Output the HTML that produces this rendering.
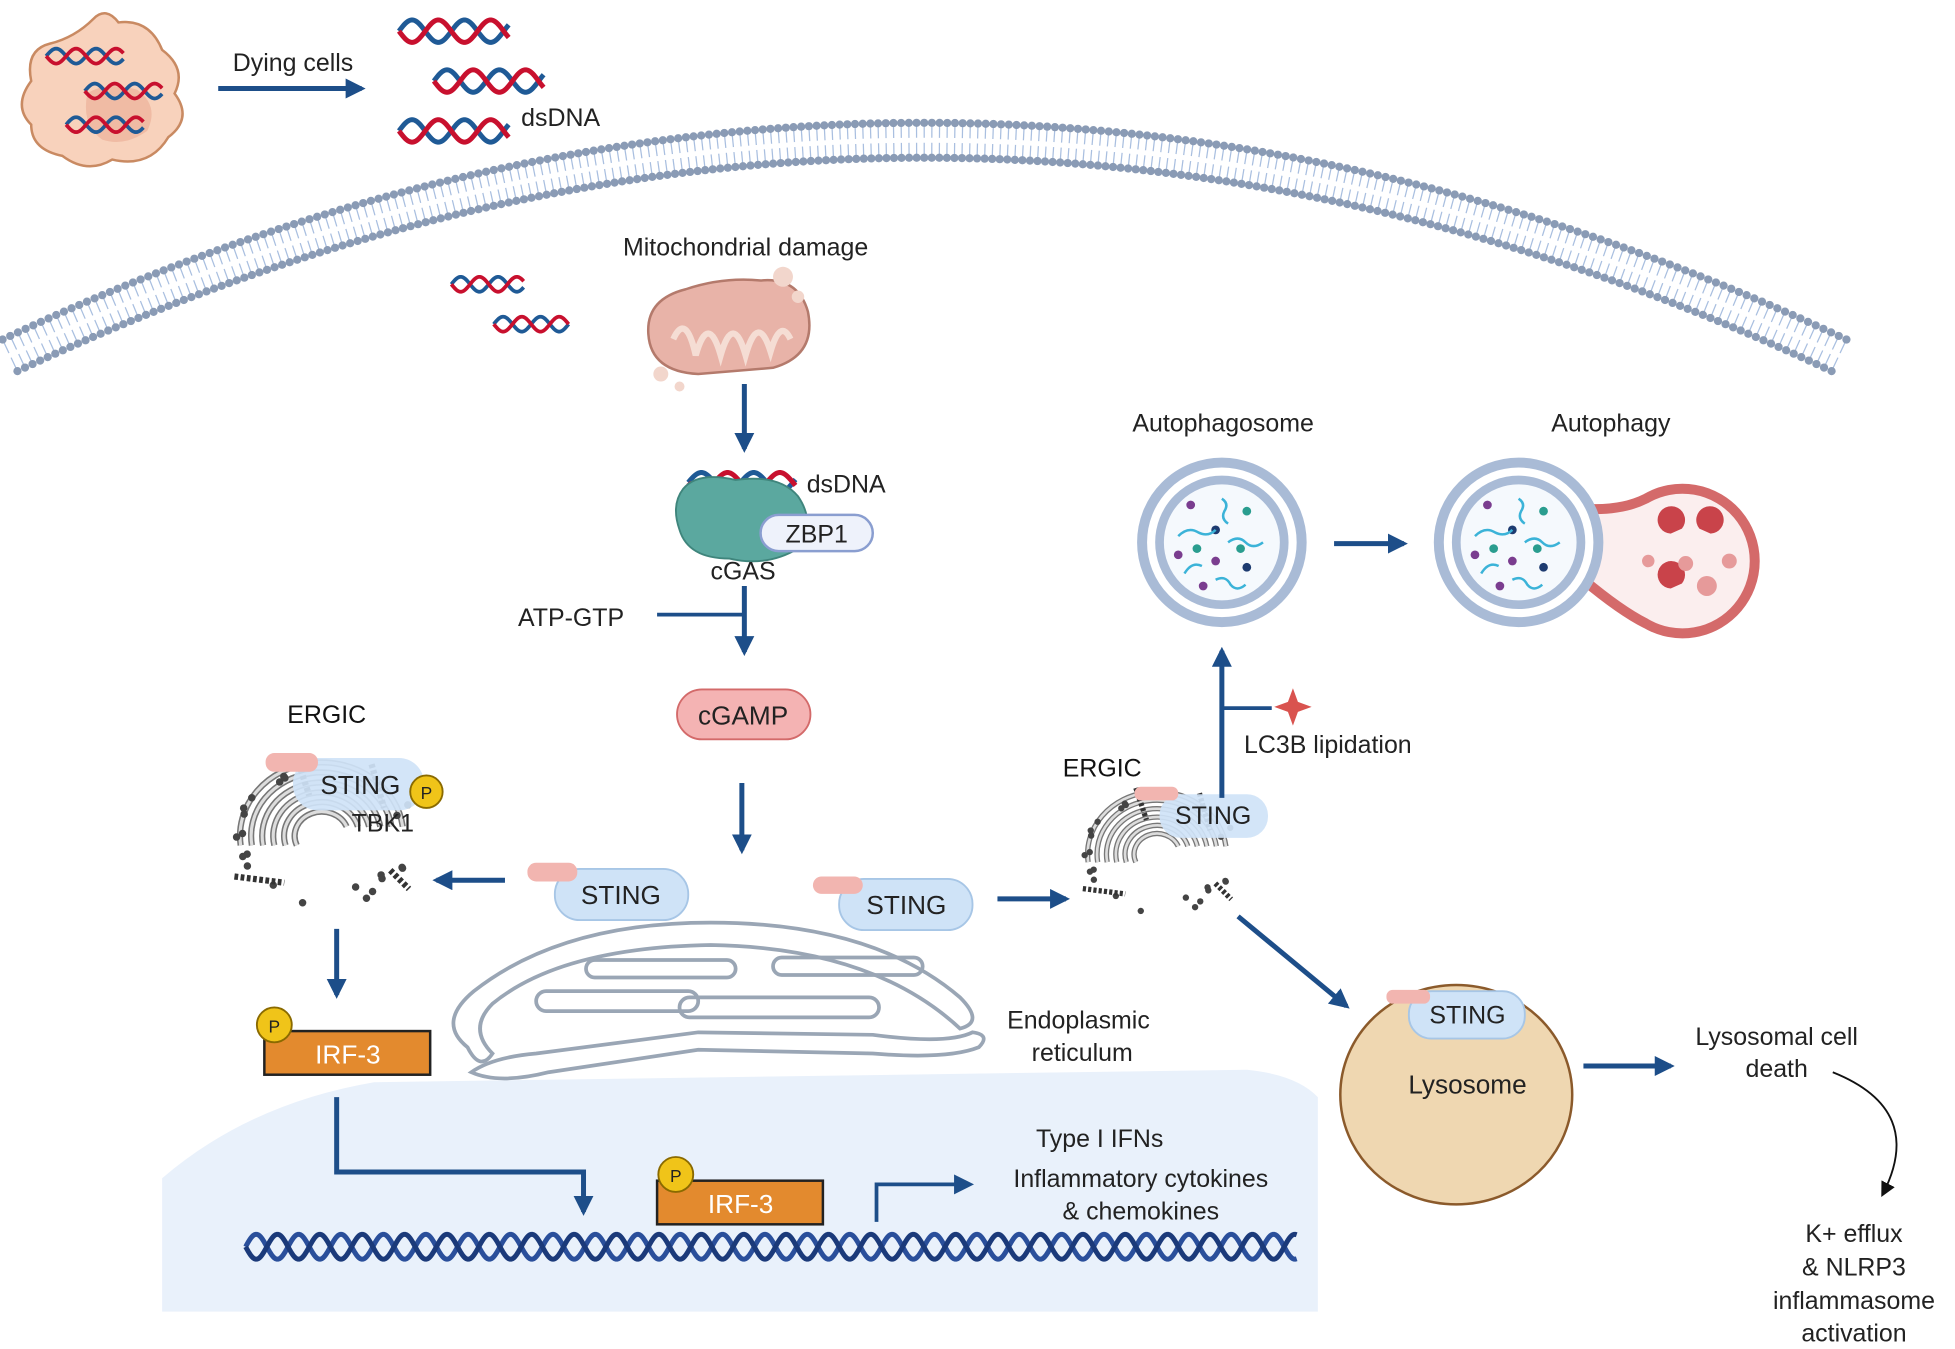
<!DOCTYPE html>
<html><head><meta charset="utf-8"><style>
html,body{margin:0;padding:0;background:#fff;}
svg{display:block;}
text{font-family:"Liberation Sans",sans-serif;fill:#222;}
</style></head><body>
<svg id="s" width="1955" height="1349" viewBox="0 0 1568 1082" xmlns="http://www.w3.org/2000/svg">
<defs>
<marker id="ah2" viewBox="0 0 10 10" markerWidth="16" markerHeight="16" refX="8" refY="5" orient="auto" markerUnits="userSpaceOnUse">
<path d="M0,0 L10,5 L0,10 Z" fill="#1d4e89"/></marker>
<marker id="ahk" viewBox="0 0 10 10" markerWidth="12" markerHeight="12" refX="8" refY="5" orient="auto" markerUnits="userSpaceOnUse">
<path d="M0,0 L10,5 L0,10 Z" fill="#111"/></marker>
</defs>

<path d="M130,1052 L130,945 Q200,885 300,868 L1000,858 Q1040,862 1057,880 L1057,1052 Z" fill="#e9f1fb"/>

<g id="mem"></g>

<path d="M40,35 Q60,30 75,15 Q85,5 95,18 Q120,15 130,40 Q150,55 140,75 Q155,95 135,110 Q120,135 90,128 Q70,140 50,125 Q25,120 25,100 Q10,85 25,65 Q20,40 40,35 Z" fill="#f8d2bc" stroke="#c98a62" stroke-width="2"/>
<path d="M70,75 Q85,65 110,72 Q128,85 118,105 Q100,118 82,112 Q65,100 70,75 Z" fill="#eeb59d" opacity="0.8"/>
<g id="dna"></g>

<text x="235" y="57" font-size="20" text-anchor="middle">Dying cells</text>
<line x1="175" y1="71" x2="290" y2="71" stroke="#1d4e89" stroke-width="4" marker-end="url(#ah2)"/>
<text x="418" y="101" font-size="20">dsDNA</text>

<text x="598" y="205" font-size="20" text-anchor="middle">Mitochondrial damage</text>
<path d="M520,268 Q518,240 550,232 Q580,222 610,225 Q640,222 648,250 Q655,285 620,295 L560,300 Q522,298 520,268 Z" fill="#e8b3a8" stroke="#b47a6c" stroke-width="2"/>
<path d="M540,272 Q550,250 558,285 Q568,250 578,285 Q588,250 598,285 Q608,250 618,282 Q626,255 634,272" fill="none" stroke="#f5ddd4" stroke-width="5"/>
<circle cx="628" cy="222" r="8" fill="#f2d6cc"/><circle cx="640" cy="238" r="5" fill="#f2d6cc"/><circle cx="530" cy="300" r="6" fill="#f2d6cc"/><circle cx="545" cy="310" r="4" fill="#f2d6cc"/>

<line x1="597" y1="308" x2="597" y2="360" stroke="#1d4e89" stroke-width="4" marker-end="url(#ah2)"/>

<path d="M548,392 Q560,378 590,385 Q625,380 640,398 Q655,420 640,440 Q615,455 585,448 Q552,448 545,425 Q538,405 548,392 Z" fill="#5ba89f" stroke="#3f857c" stroke-width="1.5"/>
<text x="647" y="395" font-size="20">dsDNA</text>
<rect x="610" y="413" width="90" height="29" rx="14.5" fill="#eef2fb" stroke="#8a9ed0" stroke-width="2"/>
<text x="655" y="435" font-size="20" text-anchor="middle">ZBP1</text>
<text x="596" y="465" font-size="20" text-anchor="middle">cGAS</text>
<text x="458" y="502" font-size="20" text-anchor="middle">ATP-GTP</text>
<line x1="527" y1="493" x2="596" y2="493" stroke="#1d4e89" stroke-width="3"/>
<line x1="597" y1="470" x2="597" y2="523" stroke="#1d4e89" stroke-width="4" marker-end="url(#ah2)"/>
<rect x="543" y="553" width="107" height="40" rx="20" fill="#f4b3b3" stroke="#d36a6a" stroke-width="1.5"/>
<text x="596" y="581" font-size="21" text-anchor="middle">cGAMP</text>
<line x1="595" y1="628" x2="595" y2="682" stroke="#1d4e89" stroke-width="4" marker-end="url(#ah2)"/>

<g fill="none" stroke="#9aa6b5" stroke-width="3">
<path d="M375,840 Q350,820 380,795 Q450,740 570,740 Q700,740 770,800 Q790,820 770,825 Q700,760 570,758 Q450,760 395,805 Q375,825 395,845 Q385,860 375,840 Z"/>
<path d="M378,860 Q400,870 440,860 L560,842 L700,845 Q760,850 785,840 Q795,830 780,828 Q760,838 700,830 L560,828 L430,845 Q395,848 378,860 Z"/>
<rect x="430" y="795" width="130" height="16" rx="8"/>
<rect x="545" y="800" width="160" height="16" rx="8"/>
<rect x="470" y="770" width="120" height="14" rx="7"/>
<rect x="620" y="768" width="120" height="14" rx="7"/>
</g>
<text x="865" y="825" font-size="20" text-anchor="middle">Endoplasmic</text>
<text x="868" y="851" font-size="20" text-anchor="middle">reticulum</text>

<rect x="445" y="697" width="107" height="41" rx="20" fill="#cfe3f7" stroke="#a7c6e6" stroke-width="1.5"/>
<rect x="423" y="692" width="40" height="15" rx="7" fill="#f2b5b0"/>
<text x="498" y="725" font-size="21" text-anchor="middle">STING</text>
<rect x="673" y="705" width="107" height="41" rx="20" fill="#cfe3f7" stroke="#a7c6e6" stroke-width="1.5"/>
<rect x="652" y="703" width="40" height="14" rx="7" fill="#f2b5b0"/>
<text x="727" y="733" font-size="21" text-anchor="middle">STING</text>

<line x1="405" y1="706" x2="350" y2="706" stroke="#1d4e89" stroke-width="4" marker-end="url(#ah2)"/>
<line x1="800" y1="721" x2="855" y2="721" stroke="#1d4e89" stroke-width="4" marker-end="url(#ah2)"/>

<g id="golgiL" transform="translate(258,668)"></g>
<text x="262" y="580" font-size="20" text-anchor="middle" style="fill:#111">ERGIC</text>
<rect x="235" y="608" width="105" height="42" rx="20" fill="#cfe3f7" opacity="0.92"/>
<rect x="213" y="604" width="42" height="15" rx="7" fill="#f2b5b0"/>
<text x="289" y="637" font-size="21" text-anchor="middle">STING</text>
<circle cx="342" cy="635" r="13" fill="#f0c419" stroke="#8a6a00" stroke-width="1.5"/>
<text x="342" y="641" font-size="14" text-anchor="middle">P</text>
<text x="307" y="667" font-size="20" text-anchor="middle">TBK1</text>

<line x1="270" y1="745" x2="270" y2="798" stroke="#1d4e89" stroke-width="4" marker-end="url(#ah2)"/>
<rect x="212" y="827" width="133" height="35" fill="#e38a2e" stroke="#222" stroke-width="2"/>
<text x="279" y="853" font-size="21" text-anchor="middle" style="fill:#fff">IRF-3</text>
<circle cx="220" cy="822" r="14" fill="#f0c419" stroke="#8a6a00" stroke-width="1.5"/>
<text x="220" y="828" font-size="14" text-anchor="middle">P</text>

<polyline points="270,880 270,940 468,940 468,972" fill="none" stroke="#1d4e89" stroke-width="4" marker-end="url(#ah2)"/>
<rect x="527" y="947" width="133" height="35" fill="#e38a2e" stroke="#222" stroke-width="2"/>
<text x="594" y="973" font-size="21" text-anchor="middle" style="fill:#fff">IRF-3</text>
<circle cx="542" cy="942" r="14" fill="#f0c419" stroke="#8a6a00" stroke-width="1.5"/>
<text x="542" y="948" font-size="14" text-anchor="middle">P</text>
<polyline points="703,980 703,950 778,950" fill="none" stroke="#1d4e89" stroke-width="3" marker-end="url(#ah2)"/>
<text x="882" y="920" font-size="20" text-anchor="middle">Type I IFNs</text>
<text x="915" y="952" font-size="20" text-anchor="middle">Inflammatory cytokines</text>
<text x="915" y="978" font-size="20" text-anchor="middle">&amp; chemokines</text>
<g id="bigdna"></g>

<g id="golgiR" transform="translate(928,683) scale(0.85)"></g>
<text x="884" y="623" font-size="20" text-anchor="middle" style="fill:#111">ERGIC</text>
<rect x="930" y="637" width="87" height="35" rx="17" fill="#cfe3f7" opacity="0.92"/>
<rect x="910" y="631" width="35" height="11" rx="5" fill="#f2b5b0"/>
<text x="973" y="661" font-size="20" text-anchor="middle">STING</text>

<line x1="980" y1="640" x2="980" y2="522" stroke="#1d4e89" stroke-width="4" marker-end="url(#ah2)"/>
<line x1="980" y1="568" x2="1020" y2="568" stroke="#1d4e89" stroke-width="3"/>
<path d="M1037,552 L1041,563 L1052,567 L1041,571 L1037,582 L1033,571 L1022,567 L1033,563 Z" fill="#d9534f"/>
<text x="1065" y="604" font-size="20" text-anchor="middle">LC3B lipidation</text>

<text x="981" y="346" font-size="20" text-anchor="middle">Autophagosome</text>
<circle cx="980" cy="435" r="64" fill="#fff" stroke="#a9bbd6" stroke-width="8"/>
<circle cx="980" cy="435" r="50" fill="#f5f9fd" stroke="#a9bbd6" stroke-width="7"/>
<g id="cargo1"></g>
<line x1="1070" y1="436" x2="1126" y2="436" stroke="#1d4e89" stroke-width="4" marker-end="url(#ah2)"/>

<text x="1292" y="346" font-size="20" text-anchor="middle">Autophagy</text>
<path d="M1270,408 Q1300,410 1320,400 A58,58 0 1 1 1320,500 Q1300,490 1270,465 Z" fill="#fbeeee" stroke="#d46a6a" stroke-width="8"/>
<circle cx="1218" cy="435" r="64" fill="#fff" stroke="#a9bbd6" stroke-width="8"/>
<circle cx="1218" cy="435" r="50" fill="#f5f9fd" stroke="#a9bbd6" stroke-width="7"/>
<g id="cargo2"></g>
<g fill="#c9434a">
<path d="M1340,428 a11,11 0 1 1 9,-4 l-9,4 Z"/>
<path d="M1372,428 a11,11 0 1 0 -9,-4 l9,4 Z"/>
<path d="M1340,472 a11,11 0 1 1 9,-4 l-9,4 Z"/>
</g>
<g fill="#e69a9a"><circle cx="1322" cy="450" r="5"/><circle cx="1352" cy="452" r="6"/><circle cx="1387" cy="450" r="6"/><circle cx="1369" cy="470" r="8"/></g>

<line x1="993" y1="735" x2="1080" y2="807" stroke="#1d4e89" stroke-width="4" marker-end="url(#ah2)"/>
<ellipse cx="1168" cy="878" rx="93" ry="88" fill="#efd7b1" stroke="#8b5a2b" stroke-width="2"/>
<rect x="1130" y="795" width="93" height="38" rx="18" fill="#cfe3f7" stroke="#a7c6e6" stroke-width="1.5"/>
<rect x="1112" y="794" width="35" height="11" rx="5" fill="#f2b5b0"/>
<text x="1177" y="821" font-size="20" text-anchor="middle">STING</text>
<text x="1177" y="877" font-size="21" text-anchor="middle">Lysosome</text>
<line x1="1270" y1="855" x2="1340" y2="855" stroke="#1d4e89" stroke-width="4" marker-end="url(#ah2)"/>
<text x="1425" y="838" font-size="20" text-anchor="middle">Lysosomal cell</text>
<text x="1425" y="864" font-size="20" text-anchor="middle">death</text>
<path d="M1470,860 Q1545,890 1510,958" fill="none" stroke="#111" stroke-width="1.5" marker-end="url(#ahk)"/>
<text x="1487" y="996" font-size="20" text-anchor="middle">K+ efflux</text>
<text x="1487" y="1023" font-size="20" text-anchor="middle">&amp; NLRP3</text>
<text x="1487" y="1050" font-size="20" text-anchor="middle">inflammasome</text>
<text x="1487" y="1076" font-size="20" text-anchor="middle">activation</text>
</svg>
<script>
var NS="http://www.w3.org/2000/svg";
function el(p,t,a){var e=document.createElementNS(NS,t);for(var k in a)e.setAttribute(k,a[k]);p.appendChild(e);return e;}
function helix(g,x,y,L,wl,amp,w,c1,c2){
 var d1="",d2="";
 for(var i=0;i<=L;i+=1){var yy=Math.sin(i/wl*2*Math.PI)*amp;d1+=(i?"L":"M")+(x+i)+","+(y+yy);d2+=(i?"L":"M")+(x+i)+","+(y-yy);}
 el(g,"path",{d:d2,fill:"none",stroke:c2,"stroke-width":w});
 el(g,"path",{d:d1,fill:"none",stroke:c1,"stroke-width":w});
}
var g=document.getElementById("dna");
var R="#c8102e",B="#1f5a96";
helix(g,37,45,62,32,6,3,R,B);helix(g,68,73,62,32,6,3,R,B);helix(g,53,100,62,32,6,3,R,B);
helix(g,320,25,88,42,9,4,R,B);helix(g,348,65,88,42,9,4,R,B);helix(g,320,105,88,42,9,4,R,B);
helix(g,362,228,58,30,6,3,R,B);helix(g,396,260,60,30,6,3,R,B);
helix(g,522,262,65,32,6,3,R,B);
helix(g,552,387,86,42,8,4,R,B);
helix(document.getElementById("bigdna"),197,1000,843,34,10,4,"#1b3a7a","#2a4f9b");
var m=document.getElementById("mem");
function arc(t,off){
 var x0=8,y0=285,cx=741,cy=-60,x1=1475,y1=285;
 var x=(1-t)*(1-t)*x0+2*(1-t)*t*cx+t*t*x1, y=(1-t)*(1-t)*y0+2*(1-t)*t*cy+t*t*y1;
 var dx=2*(1-t)*(cx-x0)+2*t*(x1-cx), dy=2*(1-t)*(cy-y0)+2*t*(y1-cy);
 var l=Math.hypot(dx,dy); var nx=-dy/l, ny=dx/l; if(ny<0){nx=-nx;ny=-ny;}
 return [x+nx*off,y+ny*off];
}
var N=240;
for(var i=0;i<=N;i++){var t=i/N;var a=arc(t,-14),b=arc(t,14),c=arc(t,-2),d=arc(t,2);
 el(m,"line",{x1:a[0],y1:a[1],x2:c[0],y2:c[1],stroke:"#a9bfe0","stroke-width":1});
 el(m,"line",{x1:b[0],y1:b[1],x2:d[0],y2:d[1],stroke:"#a9bfe0","stroke-width":1});
 el(m,"circle",{cx:a[0],cy:a[1],r:3.3,fill:"#8a9bb5"});
 el(m,"circle",{cx:b[0],cy:b[1],r:3.3,fill:"#8a9bb5"});}
function golgi(id){var gg=document.getElementById(id);
 for(var k=0;k<6;k++){var r=20+k*9;
  el(gg,"path",{d:"M"+(-r)+",10 A"+r+","+(r*0.9)+" 0 0 1 "+(r)+",-5",fill:"none",stroke:"#777","stroke-width":5});
  el(gg,"path",{d:"M"+(-r)+",10 A"+r+","+(r*0.9)+" 0 0 1 "+(r)+",-5",fill:"none",stroke:"#ddd","stroke-width":2.5});}
 var s=7;function rnd(){s=(s*9301+49297)%233280;return s/233280;}
 for(var k=0;k<22;k++){var an=rnd()*6.28,rr=60+rnd()*15;
  el(gg,"circle",{cx:Math.cos(an)*rr,cy:Math.sin(an)*rr*0.8,r:3,fill:"#444"});}
 el(gg,"path",{d:"M-70,35 L-30,40 M40,-55 L50,-20 M-20,-60 L-10,-30 M55,30 L70,45",stroke:"#333","stroke-width":5,"stroke-dasharray":"3 2"});
}
golgi("golgiL");golgi("golgiR");
function cargo(id,cx,cy){var gg=document.getElementById(id);
 var pts=[[-25,-30,"#7a3d8f"],[20,-25,"#2a9d8f"],[-5,-10,"#1d3b70"],[-20,5,"#2a9d8f"],[15,5,"#2a9d8f"],[-35,10,"#7a3d8f"],[-5,15,"#7a3d8f"],[20,20,"#1d3b70"],[-15,35,"#7a3d8f"]];
 pts.forEach(function(p){el(gg,"circle",{cx:cx+p[0],cy:cy+p[1],r:3.5,fill:p[2]});});
 ["M-35,-5 q8,-8 16,-3 q8,4 14,-2","M0,-35 q6,4 2,10 q-3,6 3,10","M5,0 q8,-6 14,0 q6,6 14,0","M-30,25 q6,-10 14,-6","M-5,30 q8,-4 12,4 q5,6 12,0"].forEach(function(s){
  el(gg,"path",{d:s,transform:"translate("+cx+","+cy+")",fill:"none",stroke:"#3bb3d8","stroke-width":2});});
}
cargo("cargo1",980,435);cargo("cargo2",1218,435);
</script>
</body></html>
